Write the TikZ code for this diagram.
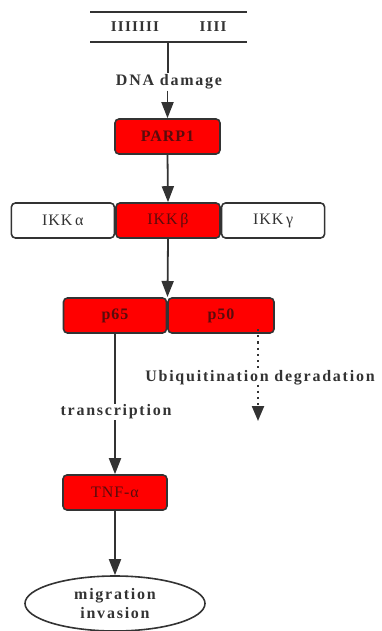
\documentclass[tikz,border=0pt]{standalone}
\usepackage{fontspec}
\setmainfont{Liberation Serif}
\newfontfamily\lblfont[LetterSpace=11]{Liberation Serif}
\newfontfamily\barfont[LetterSpace=8]{Liberation Serif}
\newfontfamily\boxfont[LetterSpace=6]{Liberation Serif}
\usetikzlibrary{arrows.meta,shapes.geometric}
\definecolor{ln}{HTML}{333333}
\definecolor{boxred}{HTML}{FF0000}
\definecolor{txtred}{HTML}{5A0C0C}
\tikzset{
  redbox/.style={draw=ln,line width=1.6pt,rounded corners=4pt,fill=boxred,minimum height=35pt,inner sep=0pt,text=txtred,font=\boxfont\fontsize{16}{18}\selectfont},
  whitebox/.style={draw=ln,line width=1.6pt,rounded corners=4pt,fill=white,minimum height=35pt,inner sep=0pt,text=ln,font=\boxfont\fontsize{16}{18}\selectfont},
  lbl/.style={text=ln,font=\lblfont\bfseries\fontsize{16}{18}\selectfont,inner sep=1pt},
  conn/.style={draw=ln,line width=1.8pt},
  arr/.style={conn,-{Triangle[width=12pt,length=16pt]}},
  dotline/.style={draw=ln,line width=2.2pt,dash pattern=on 2.2pt off 4pt},
  dotarr/.style={dotline,-{Triangle[width=12pt,length=15pt]}},
}
\begin{document}
\begin{tikzpicture}[x=1pt,y=-1pt]
\useasboundingbox (0,0) rectangle (382,631);
% DNA
\coordinate (t1) at (90,12);
\coordinate (t2) at (247,12);
\coordinate (b1) at (90,42);
\coordinate (b2) at (247,42);
\draw[conn] (t1) -- (t2);
\draw[conn] (b1) -- (b2);
\node[text=ln,font=\barfont\bfseries\fontsize{15}{16}\selectfont,inner sep=0pt] (bars1) at (135,27) {IIIIIII};
\node[text=ln,font=\barfont\bfseries\fontsize{15}{16}\selectfont,inner sep=0pt] (bars2) at (213,27) {IIII};
\coordinate (dnab) at (168,42);
\node[lbl] (dna) at (169,82) {DNA damage};
\draw[conn] (dnab) -- (dna.north -| dnab);
% PARP1
\node[redbox,minimum width=105pt,font=\boxfont\bfseries\fontsize{16}{18}\selectfont] (parp) at (167.5,136.5) {PARP1};
\draw[arr] (dna.south -| parp) -- (parp.north);
% IKK
\node[redbox,minimum width=104pt] (ikkb) at (168,220.5) {IKK\,β};
\node[whitebox,minimum width=103pt,anchor=east] (ikka) at (ikkb.west) {IKK\,α};
\node[whitebox,minimum width=103pt,anchor=west] (ikkg) at (ikkb.east) {IKK\,γ};
\draw[arr] (parp.south) -- (ikkb.north);
% p65 p50
\node[redbox,minimum width=103pt,font=\boxfont\bfseries\fontsize{16}{18}\selectfont] (p65) at (115,315.5) {p65};
\node[redbox,minimum width=106pt,font=\boxfont\bfseries\fontsize{16}{18}\selectfont] (p50) at (221,315.5) {p50};
\coordinate (pj) at (167.5,297);
\draw[arr] (ikkb.south) -- (pj);
% transcription
\node[lbl] (tr) at (116,412) {transcription};
\draw[conn] (p65.south) -- (tr.north -| p65);
% Ubiquitination
\node[lbl] (ub) at (260,378) {Ubiquitination degradation};
\coordinate (p50b) at (258,333);
\draw[dotline] ([yshift=4pt]p50b) -- (ub.north -| p50b);
\coordinate (ubend) at (258,421);
\draw[dotarr] ([yshift=2pt]ub.south -| p50b) -- (ubend);
% TNF
\node[redbox,minimum width=104pt] (tnf) at (115,492.5) {TNF-α};
\draw[arr] (tr.south -| tnf) -- (tnf.north);
% ellipse
\node[draw=ln,line width=1.6pt,ellipse,minimum width=180pt,minimum height=55pt,inner sep=0pt,align=center,lbl,font=\lblfont\bfseries\fontsize{16}{19}\selectfont] (mig) at (115,603.5) {migration\\invasion};
\draw[arr] (tnf.south) -- (mig.north);
\end{tikzpicture}
\end{document}
